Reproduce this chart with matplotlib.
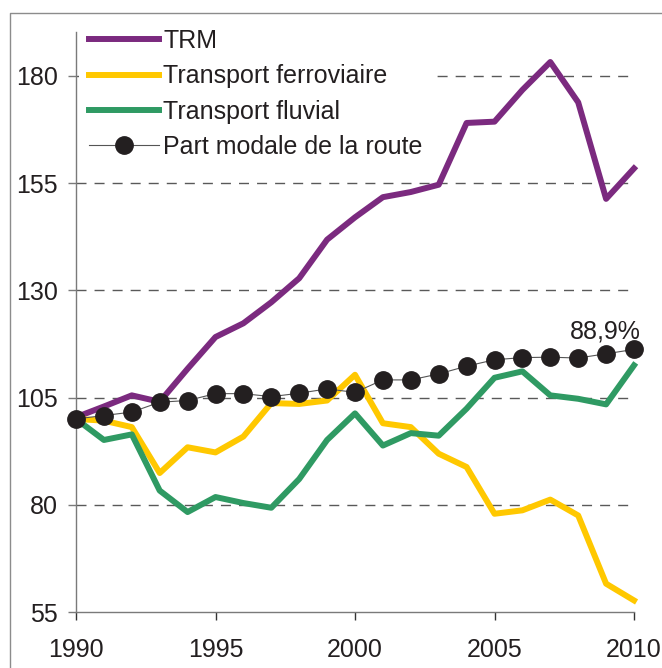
import numpy as np
import matplotlib
matplotlib.use("Agg")
import matplotlib.pyplot as plt
from matplotlib.lines import Line2D

plt.rcParams['font.family'] = ['Liberation Sans', 'DejaVu Sans']

# ---- data ----
years = list(range(1990, 2011))
trm = [100.4, 102.9, 105.5, 104.0, 111.7, 119.1, 122.3, 127.2, 132.8, 141.8, 147.0,
       151.7, 152.9, 154.6, 169.0, 169.3, 176.7, 183.2, 173.8, 151.3, 158.4]
fer = [100.0, 99.6, 98.1, 87.4, 93.4, 92.2, 95.9, 103.7, 103.5, 104.3, 110.3,
       99.0, 98.1, 91.9, 88.8, 77.9, 78.7, 81.2, 77.5, 61.6, 57.7]
fluv = [100.0, 95.1, 96.4, 83.3, 78.3, 81.8, 80.4, 79.3, 86.0, 95.1, 101.3,
        93.8, 96.7, 96.1, 102.4, 109.6, 111.1, 105.5, 104.7, 103.4, 112.5]
route = [100.0, 100.8, 101.6, 103.9, 104.3, 105.9, 105.9, 105.2, 106.0, 107.0, 106.2,
         109.1, 109.1, 110.5, 112.3, 113.8, 114.3, 114.4, 114.2, 115.2, 116.2]
labels = ['TRM', 'Transport ferroviaire', 'Transport fluvial', 'Part modale de la route']
yticks = [55, 80, 105, 130, 155, 180]
xticks = [1990, 1995, 2000, 2005, 2010]
end_label = '88,9%'

col_trm = '#7b2a7f'
col_fer = '#ffc800'
col_fluv = '#2f9a63'
col_dot = '#231f20'
col_txt = '#231f20'
col_axis = '#7a7a7a'
fs = 18

fig = plt.figure(figsize=(6.62, 6.68), dpi=100)
ax = fig.add_axes([76 / 662, 1 - 612 / 668, (634 - 76) / 662, (612 - 32) / 668])

ax.plot(years, trm, color=col_trm, lw=4.3, label=labels[0], clip_on=False, zorder=3)
ax.plot(years, fer, color=col_fer, lw=4.3, label=labels[1], clip_on=False, zorder=3)
ax.plot(years, fluv, color=col_fluv, lw=4.3, label=labels[2], clip_on=False, zorder=3)
ax.plot(years, route, color='#555555', lw=0.8, marker='o', ms=12.5,
        mfc=col_dot, mec=col_dot, label=labels[3], clip_on=False, zorder=4)

ax.text(years[-1] - 1.02, 120.4, end_label, fontsize=fs, color=col_txt,
        ha='center', va='center')

ax.set_xlim(1990, 2010)
ax.set_ylim(55, 190.2)
ax.set_yticks(yticks)
ax.set_xticks(xticks)
for y in yticks[1:]:
    ax.axhline(y, color='#595959', lw=1.0, dashes=(7.2, 5.8), zorder=1)

for s in ['top', 'right']:
    ax.spines[s].set_visible(False)
for s in ['left', 'bottom']:
    ax.spines[s].set_color(col_axis)
    ax.spines[s].set_linewidth(1.0)
ax.tick_params(axis='y', direction='out', length=6, width=1, color=col_axis,
               labelsize=fs, labelcolor=col_txt, pad=7)
ax.tick_params(axis='x', direction='out', length=6, width=1, color='#333333',
               labelsize=fs, labelcolor=col_txt, pad=13)

leg = ax.legend(loc='upper left', bbox_to_anchor=(79 / 662, 1 - 19 / 668),
                bbox_transform=fig.transFigure, borderaxespad=0, borderpad=0.4,
                fontsize=fs, handlelength=2.8, handletextpad=0.17,
                labelspacing=0.45, frameon=True, fancybox=False,
                facecolor='white', edgecolor='none', framealpha=1)
for t in leg.get_texts():
    t.set_color(col_txt)
leg.set_zorder(5)

# outer frame of the picture
fig.add_artist(Line2D([10 / 662, 10 / 662, 1], [0, 1 - 13 / 668, 1 - 13 / 668],
                      transform=fig.transFigure, color='#8c8c8c', lw=1.0))

fig.savefig('out.png', dpi=100)
